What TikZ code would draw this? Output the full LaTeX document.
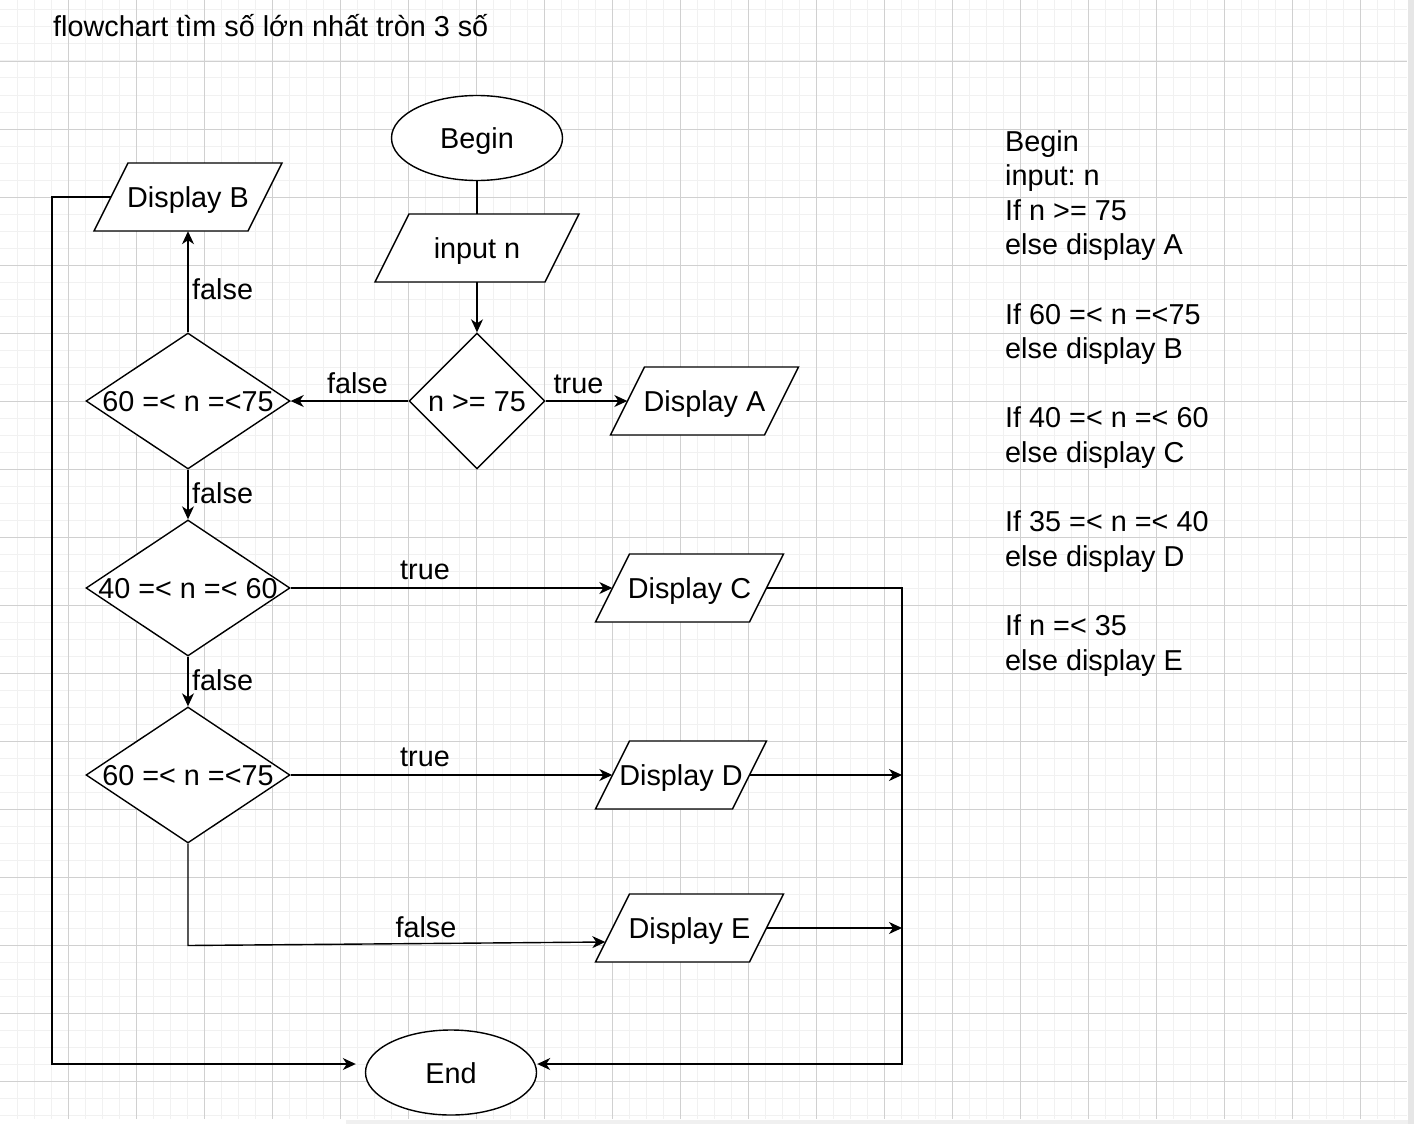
\documentclass[tikz,border=0pt]{standalone}
\usepackage{fontspec}
\setmainfont{Liberation Sans}
\usetikzlibrary{shapes.geometric,arrows.meta}
\frenchspacing

\definecolor{gridminor}{HTML}{F1F1F1}
\definecolor{gridmajor}{HTML}{D0D0D0}
\definecolor{edgegray}{HTML}{E6E6E6}

\tikzset{
  every node/.style={font=\fontsize{28.8}{34.6}\selectfont, inner sep=0pt},
  outline/.style={draw=black, line width=1.4pt, fill=white, line join=miter},
  shapetext/.style={text height=21pt, text depth=0pt},
  terminal/.style={outline, shapetext, ellipse, minimum width=171pt, minimum height=85pt},
  decision/.style={outline, shapetext, diamond, minimum width=#1, minimum height=136pt},
  decision/.default=204pt,
  iobody/.style={shapetext, rectangle, minimum height=68pt},
  link/.style={line width=1.4pt},
  flow/.style={link, -{Stealth[length=13pt,width=12pt,inset=4pt]}},
  tag/.style={anchor=base},
  tagl/.style={anchor=base west},
}

% parallelogram (data) box: name, centre x, centre y, edge width, text
\newcommand\iobox[5]{%
  \filldraw[outline] (#2-#4/2+17,#3-34) -- (#2+#4/2+17,#3-34)
     -- (#2+#4/2-17,#3+34) -- (#2-#4/2-17,#3+34) -- cycle;
  \node[iobody, minimum width=#4] (#1) at (#2,#3) {\makebox[0pt]{#5}};%
}

\begin{document}
\begin{tikzpicture}[x=1pt, y=-1pt]
\useasboundingbox (0,0) rectangle (1414,1124);

% canvas with grid
\fill[white] (0,0) rectangle (1414,1124);
\fill[edgegray] (1408,0) rectangle (1414,1124);
\fill[edgegray!60] (346,1120) rectangle (1408,1124);
\foreach \x in {17,34,...,1394} \draw[gridminor, line width=1pt] (\x,0) -- (\x,1119);
\foreach \y in {10,27,...,1115} \draw[gridminor, line width=1pt] (0,\y) -- (1407,\y);
\foreach \x in {68,136,...,1360} \draw[gridmajor, line width=0.8pt] (\x,0) -- (\x,1119);
\foreach \y in {61,129,...,1081} \draw[gridmajor, line width=0.8pt] (0,\y) -- (1407,\y);

% title
\node[tagl] (title) at (53,37) {flowchart tìm số lớn nhất tròn 3 số};

% shapes
\node[terminal] (begin) at (477,138) {Begin};
\iobox{inp}{477}{248}{170}{input n}
\node[decision=136pt] (q0) at (477,401) {\makebox[0pt]{n >= 75}};
\iobox{da}{704.5}{401}{154}{Display A}
\node[decision] (q1) at (188,401) {\makebox[0pt]{60 =< n =<75}};
\iobox{db}{188}{197}{154}{Display B}
\node[decision] (q2) at (188,588) {\makebox[0pt]{40 =< n =< 60}};
\iobox{dc}{689.5}{588}{154}{Display C}
\node[decision] (q3) at (188,775) {\makebox[0pt]{60 =< n =<75}};
\iobox{dd}{681}{775}{137}{Display D}
\iobox{de}{689.5}{928}{154}{Display E}
\node[terminal] (end) at (451,1072.5) {End};

% connectors
\draw[link] (begin) -- (inp);
\draw[flow] (inp) -- (q0);
\draw[flow] (q0) -- (da);
\draw[flow] (q0) -- (q1);
\draw[flow] (q1) -- (db);
\draw[flow] (q1) -- (q2);
\draw[flow] (q2) -- (dc);
\draw[flow] (q2) -- (q3);
\draw[flow] (q3) -- (dd);
\coordinate (eturn) at (188,945.5);
\draw[flow] (q3) -- (eturn) -- ([shift={(-7pt,-14pt)}]de.west);

\coordinate (lt) at (52,197);
\coordinate (lb) at (52,1064);
\draw[flow, shorten >=9pt] (db) -- (lt) -- (lb) -- (lb -| end.west);

\coordinate (rt) at (902,588);
\coordinate (rb) at (902,1064);
\draw[flow] (dc) -- (rt) -- (rb) -- (rb -| end.east);
\coordinate (jd) at (902,775);
\coordinate (je) at (902,928);
\draw[flow] (dd) -- (jd);
\draw[flow] (de) -- (je);

% connector labels
\node[tag] (l0f) at (357.5,393) {false};
\node[tag] (l0t) at (578.5,393) {true};
\node[tagl] (l1f) at (192,299) {false};
\node[tagl] (l2f) at (192,503.5) {false};
\node[tag] (l2t) at (425,579) {true};
\node[tagl] (l3f) at (192,690.5) {false};
\node[tag] (l3t) at (425,766) {true};
\node[tag] (l4f) at (426,937.5) {false};

% pseudocode
\node[tagl] (p0) at (1005,151) {Begin};
\node[tagl] (p1) at (1005,185.6) {input: n};
\node[tagl] (p2) at (1005,220.2) {If n >= 75};
\node[tagl] (p3) at (1005,254.8) {else display A};
\node[tagl] (p5) at (1005,324) {If 60 =< n =<75};
\node[tagl] (p6) at (1005,358.6) {else display B};
\node[tagl] (p8) at (1005,427.8) {If 40 =< n =< 60};
\node[tagl] (p9) at (1005,462.4) {else display C};
\node[tagl] (p11) at (1005,531.6) {If 35 =< n =< 40};
\node[tagl] (p12) at (1005,566.2) {else display D};
\node[tagl] (p14) at (1005,635.4) {If n =< 35};
\node[tagl] (p15) at (1005,670) {else display E};
\end{tikzpicture}
\end{document}
